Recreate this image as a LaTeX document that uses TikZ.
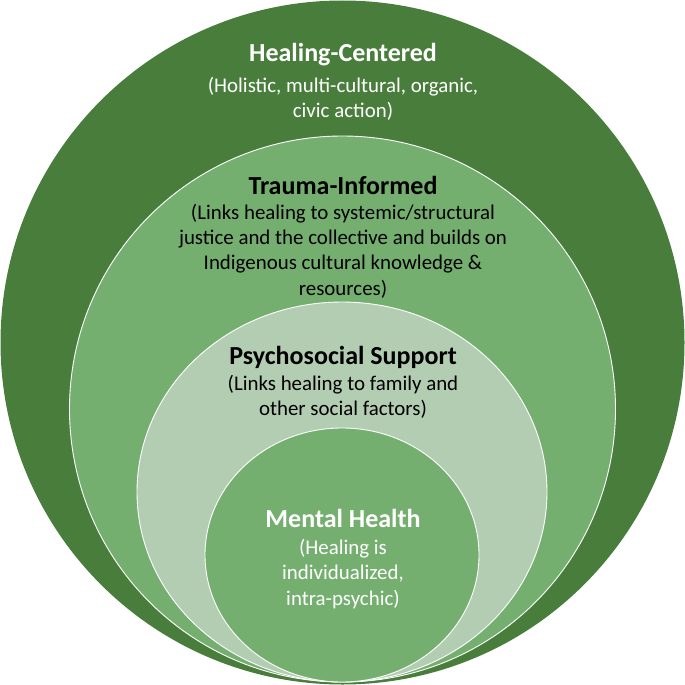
\documentclass[tikz,border=0pt]{standalone}
\usepackage{fontspec}
\setmainfont{Carlito}
\usepackage{tikz}
\usetikzlibrary{positioning}
\usepackage{xcolor}
\definecolor{darkleaf}{HTML}{497D3C}
\definecolor{midleaf}{HTML}{75AF70}
\definecolor{paleleaf}{HTML}{B3CDB2}

\begin{document}
\begin{tikzpicture}[x=1pt, y=-1pt,
    ring/.style={draw=white, line width=0.9pt},
    heading/.style={font=\fontsize{26}{30}\selectfont\bfseries, align=center},
    blurb/.style={font=\fontsize{20.9}{25.3}\selectfont, align=center}]
    \useasboundingbox (0,0) rectangle (685,685);

    % Cerchi annidati, tutti tangenti in basso
    \fill[darkleaf] (342.5, 342.5) circle (342);
    \fill[midleaf, ring] (342.5, 409) circle (273);
    \fill[paleleaf, ring] (342, 492) ellipse (205 and 190);
    \fill[midleaf, ring] (342, 555) ellipse (137 and 127);

    % Livello esterno
    \node[heading, text=white] (healT) at (343, 55) {Healing-Centered};
    \node[blurb, text=white] (healB) at (343, 99) {(Holistic, multi-cultural, organic,\\civic action)};

    % Secondo livello
    \node[heading, text=black] (traumaT) at (343, 185) {Trauma-Informed};
    \node[blurb, text=black] (traumaB) at (343, 251) {(Links healing to systemic/structural\\justice and the collective and builds on\\Indigenous cultural knowledge \&\\resources)};

    % Terzo livello
    \node[heading, text=black] (psyT) at (343, 357) {Psychosocial Support};
    \node[blurb, text=black] (psyB) at (343, 397) {(Links healing to family and\\other social factors)};

    % Centro
    \node[heading, text=white] (mentalT) at (343, 518) {Mental Health};
    \node[blurb, text=white] (mentalB) at (343, 574) {(Healing is\\individualized,\\intra-psychic)};
\end{tikzpicture}
\end{document}
